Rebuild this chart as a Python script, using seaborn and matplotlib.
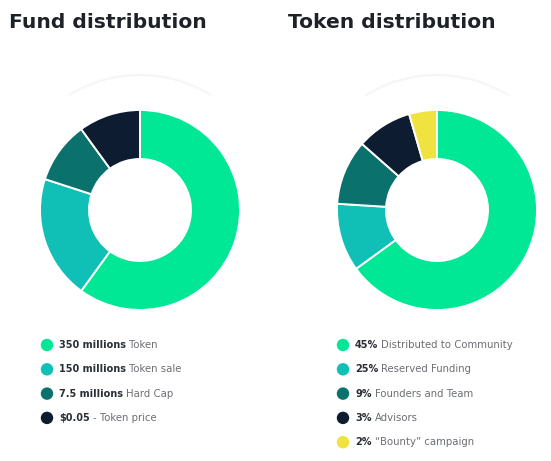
import numpy as np
import pandas as pd
import matplotlib
matplotlib.use("Agg")
import matplotlib.pyplot as plt
from matplotlib.patches import Arc
import seaborn as sns

# data (slice shares in percent of the ring)
fund_shares = [60, 20, 10, 10]
fund_bold = ["350 millions", "150 millions", "7.5 millions", "$0.05"]
fund_rest = ["Token", "Token sale", "Hard Cap", "- Token price"]

token_shares = [65, 11, 10.5, 9, 4.5]
token_bold = ["45%", "25%", "9%", "3%", "2%"]
token_rest = ["Distributed to Community", "Reserved Funding", "Founders and Team",
              "Advisors", "\u201cBounty\u201d campaign"]

colors = ["#00E795", "#10BFB6", "#0B716C", "#0E1C31", "#F0E23F"]

sns.set_theme(style="white")
plt.rcParams["font.family"] = ["DejaVu Sans"]

W, H = 551, 461
fig = plt.figure(figsize=(W / 100, H / 100), dpi=100)
fig.patch.set_facecolor("white")

# overlay in pixel coordinates for titles and legends
lay = fig.add_axes([0, 0, 1, 1])
lay.set_xlim(0, W)
lay.set_ylim(H, 0)
lay.axis("off")

R = 140  # half size of a donut box in px, pie radius 1 -> 100 px


def donut(cx, cy, shares, cols):
    ax = fig.add_axes([(cx - R) / W, (H - cy - R) / H, 2 * R / W, 2 * R / H])
    ax.pie(shares, colors=cols, startangle=90, counterclock=False, radius=1.0,
           wedgeprops=dict(width=0.49, edgecolor="white", linewidth=1.4))
    # faint shadow arc above the ring
    ax.add_patch(Arc((0, 0), 2.7, 2.7, theta1=58, theta2=122,
                     color="#f6f6f6", lw=1.6, zorder=0))
    ax.set_xlim(-1.4, 1.4)
    ax.set_ylim(-1.4, 1.4)
    ax.set_aspect("equal")
    ax.axis("off")
    return ax


def legend(x0, y0, bold, rest, cols):
    ys = y0 + 24.3 * np.arange(len(bold))
    df = pd.DataFrame({"x": x0, "y": ys, "lab": bold})
    sns.scatterplot(data=df, x="x", y="y", hue="lab", palette=cols[:len(bold)],
                    s=80, edgecolor="none", legend=False, ax=lay)
    for y, b, r in zip(ys, bold, rest):
        t = lay.text(x0 + 12, y, b, fontsize=7.0, fontweight="bold",
                     color="#2a2e36", va="center", ha="left")
        lay.annotate(r, xy=(1, 0.5), xycoords=t, xytext=(2.3, 0),
                     textcoords="offset points", fontsize=7.3, color="#6b6e73",
                     va="center", ha="left")


lay.text(9, 28, "Fund distribution", fontsize=14.6, fontweight="bold",
         color="#1e2127", va="baseline")
lay.text(288, 28, "Token distribution", fontsize=14.6, fontweight="bold",
         color="#1e2127", va="baseline")

donut(140, 210, fund_shares, colors[:4])
donut(437, 210, token_shares, colors)

legend(47, 345, fund_bold, fund_rest, colors)
legend(343, 345, token_bold, token_rest, colors)
lay.set_xlabel("")
lay.set_ylabel("")

fig.savefig("out.png", dpi=100, facecolor="white")
